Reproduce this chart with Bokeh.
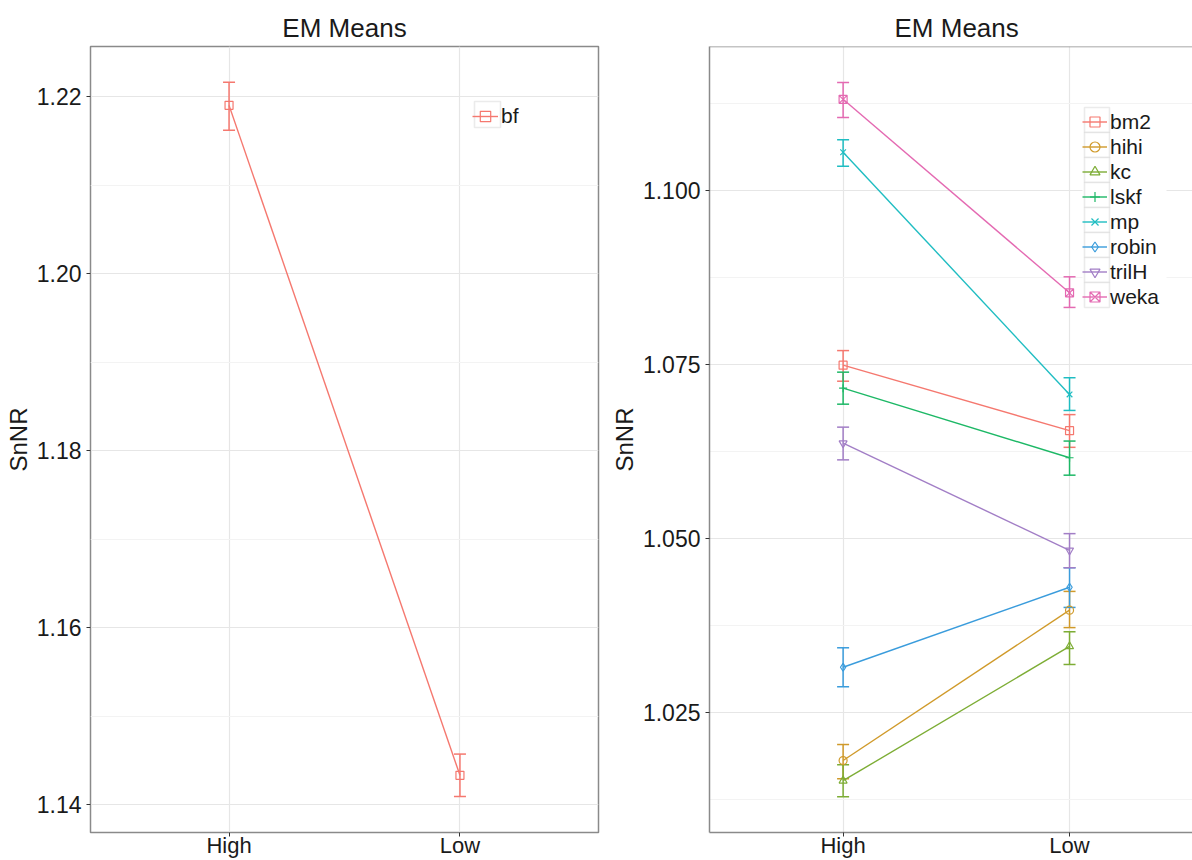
from bokeh.plotting import figure
from bokeh.layouts import row
from bokeh.models import (ColumnDataSource, Whisker, TeeHead, FixedTicker, Range1d,
                          Legend, LegendItem, Span, NumeralTickFormatter, BoxAnnotation)
from bokeh.embed import file_html
from bokeh.resources import INLINE

# ---------------- data ----------------
groups = ["High", "Low"]

bf_mean = [1.2190, 1.1433]
bf_lower = [1.2162, 1.1409]
bf_upper = [1.2216, 1.1457]
bf_color = "#F5786F"

series = ["bm2", "hihi", "kc", "lskf", "mp", "robin", "trilH", "weka"]
colors = ["#F5786F", "#D09A2A", "#7DAD35", "#1DB866", "#1FBDC2", "#3A9CDC", "#A27EC6", "#E46AB2"]
markers = ["square", "circle", "triangle", "cross", "x", "diamond", "inverted_triangle", "square_x"]

high_mean = [1.0749, 1.0181, 1.0152, 1.0716, 1.1055, 1.0315, 1.0637, 1.1131]
high_lower = [1.0726, 1.0155, 1.0129, 1.0693, 1.1035, 1.0287, 1.0613, 1.1105]
high_upper = [1.0770, 1.0204, 1.0175, 1.0739, 1.1073, 1.0343, 1.0660, 1.1155]
low_mean = [1.0655, 1.0397, 1.0345, 1.0616, 1.0707, 1.0430, 1.0483, 1.0853]
low_lower = [1.0631, 1.0372, 1.0319, 1.0591, 1.0684, 1.0401, 1.0458, 1.0832]
low_upper = [1.0678, 1.0424, 1.0366, 1.0640, 1.0731, 1.0458, 1.0507, 1.0876]

left_ticks = [1.14, 1.16, 1.18, 1.20, 1.22]
left_minor = [1.15, 1.17, 1.19, 1.21]
right_ticks = [1.025, 1.050, 1.075, 1.100]
right_minor = [1.0125, 1.0375, 1.0625, 1.0875, 1.1125]

FONT = "Liberation Sans"
TXT = "#1a1a1a"
BORDER = "#8a8a8a"
KEYBOX = "#bdbdbd"

xpos = [i + 1 for i in range(len(groups))]


def make_fig(width, mbl, mbr, xr, yr, ticks, minor, fmt, outline):
    p = figure(width=width, height=860, x_range=Range1d(*xr), y_range=Range1d(*yr),
               output_backend="svg", toolbar_location=None,
               min_border_left=mbl, min_border_right=mbr,
               min_border_top=46, min_border_bottom=28,
               title="EM Means")
    p.background_fill_color = "white"
    p.border_fill_color = "white"
    p.title.text_font = FONT
    p.title.text_font_size = "26px"
    p.title.text_font_style = "normal"
    p.title.text_color = TXT
    p.title.standoff = 8
    if outline:
        p.outline_line_color = BORDER
        p.outline_line_width = 1.5
    else:
        p.outline_line_color = None

    for ax in (p.xaxis[0], p.yaxis[0]):
        ax.major_label_text_font = FONT
        ax.major_label_text_color = TXT
        ax.major_tick_in = 0
        ax.major_tick_out = 4
        ax.major_tick_line_color = "#333333"
        ax.minor_tick_line_color = None
        ax.axis_label_text_font = FONT
        ax.axis_label_text_font_style = "normal"
        ax.axis_label_text_font_size = "24px"
        ax.axis_label_text_color = TXT
        if outline:
            ax.axis_line_color = None
        else:
            ax.axis_line_color = BORDER
            ax.axis_line_width = 1.5

    p.xaxis.ticker = FixedTicker(ticks=xpos)
    p.xaxis.major_label_overrides = {x: g for x, g in zip(xpos, groups)}
    p.xaxis.major_label_text_font_size = "22px"
    p.xaxis.major_label_standoff = -4
    p.yaxis.ticker = FixedTicker(ticks=ticks, minor_ticks=minor)
    p.yaxis.formatter = NumeralTickFormatter(format=fmt)
    p.yaxis.major_label_text_font_size = "23px"
    p.yaxis.major_label_standoff = 5
    p.yaxis.axis_label = "SnNR"
    p.yaxis.axis_label_standoff = 2

    p.xgrid.grid_line_color = "#e6e6e6"
    p.xgrid.grid_line_width = 1.2
    p.ygrid.grid_line_color = "#e6e6e6"
    p.ygrid.grid_line_width = 1.2
    p.ygrid.minor_grid_line_color = "#f3f3f3"
    p.ygrid.minor_grid_line_width = 1
    return p


def add_series(p, name, color, marker, mean, lower, upper):
    src = ColumnDataSource(dict(x=xpos, mean=mean, lower=lower, upper=upper))
    w = Whisker(source=src, base="x", lower="lower", upper="upper",
                line_color=color, line_width=1.5,
                upper_head=TeeHead(size=12, line_color=color, line_width=1.5),
                lower_head=TeeHead(size=12, line_color=color, line_width=1.5))
    p.add_layout(w)
    lr = p.line("x", "mean", source=src, line_color=color, line_width=1.4)
    sr = p.scatter("x", "mean", source=src, marker=marker, size=8,
                   line_color=color, fill_color=None, line_width=1.2)
    return LegendItem(label=name, renderers=[lr, sr])


def screen_box(**kw):
    return BoxAnnotation(left_units="screen", right_units="screen",
                         top_units="screen", bottom_units="screen", **kw)


def add_legend(p, items, vx, vy, key, label_w):
    n = len(items)
    top0 = vy + 2 + key * n
    # white background of the legend (keys + labels)
    p.add_layout(screen_box(left=vx, right=vx + 2 + key + 3 + label_w + 2,
                            bottom=vy, top=top0 + 2,
                            fill_color="white", fill_alpha=1, line_color=None))
    # bordered key boxes
    for i in range(n):
        p.add_layout(screen_box(
            left=vx + 2, right=vx + 2 + key,
            top=top0 - key * i, bottom=top0 - key * (i + 1),
            fill_color="white", fill_alpha=1,
            line_color=KEYBOX, line_width=1.6))
    leg = Legend(items=items, location=(vx, vy))
    leg.label_text_font = FONT
    leg.label_text_font_size = "21px"
    leg.label_text_color = TXT
    leg.glyph_height = key
    leg.glyph_width = key
    leg.label_height = key
    leg.label_standoff = 3
    leg.spacing = 0
    leg.padding = 2
    leg.margin = 0
    leg.border_line_color = None
    leg.background_fill_alpha = 0.0
    p.add_layout(leg)


# ---------------- left panel ----------------
p1 = make_fig(600, 90, 2, (0.4, 2.6), (1.13684, 1.22565), left_ticks, left_minor, "0.00", True)
p1.title.align = "center"
it = add_series(p1, "bf", bf_color, "square", bf_mean, bf_lower, bf_upper)
add_legend(p1, [it], 382, 703, 26, 22)

# ---------------- right panel ----------------
p2 = make_fig(592, 109, 0, (0.41, 2.543), (1.00776, 1.12069), right_ticks, right_minor, "0.000", False)
items = []
for i, name in enumerate(series):
    mean = [high_mean[i], low_mean[i]]
    lower = [high_lower[i], low_lower[i]]
    upper = [high_upper[i], low_upper[i]]
    items.append(add_series(p2, name, colors[i], markers[i], mean, lower, upper))
add_legend(p2, items, 373, 523, 25, 52)
p2.add_layout(Span(location=1.12069, dimension="width", line_color=BORDER, line_width=1.5))
p2.title.align = "left"
p2.title.offset = 185

layout = row(p1, p2)
open("out.html", "w").write(file_html(layout, INLINE))
